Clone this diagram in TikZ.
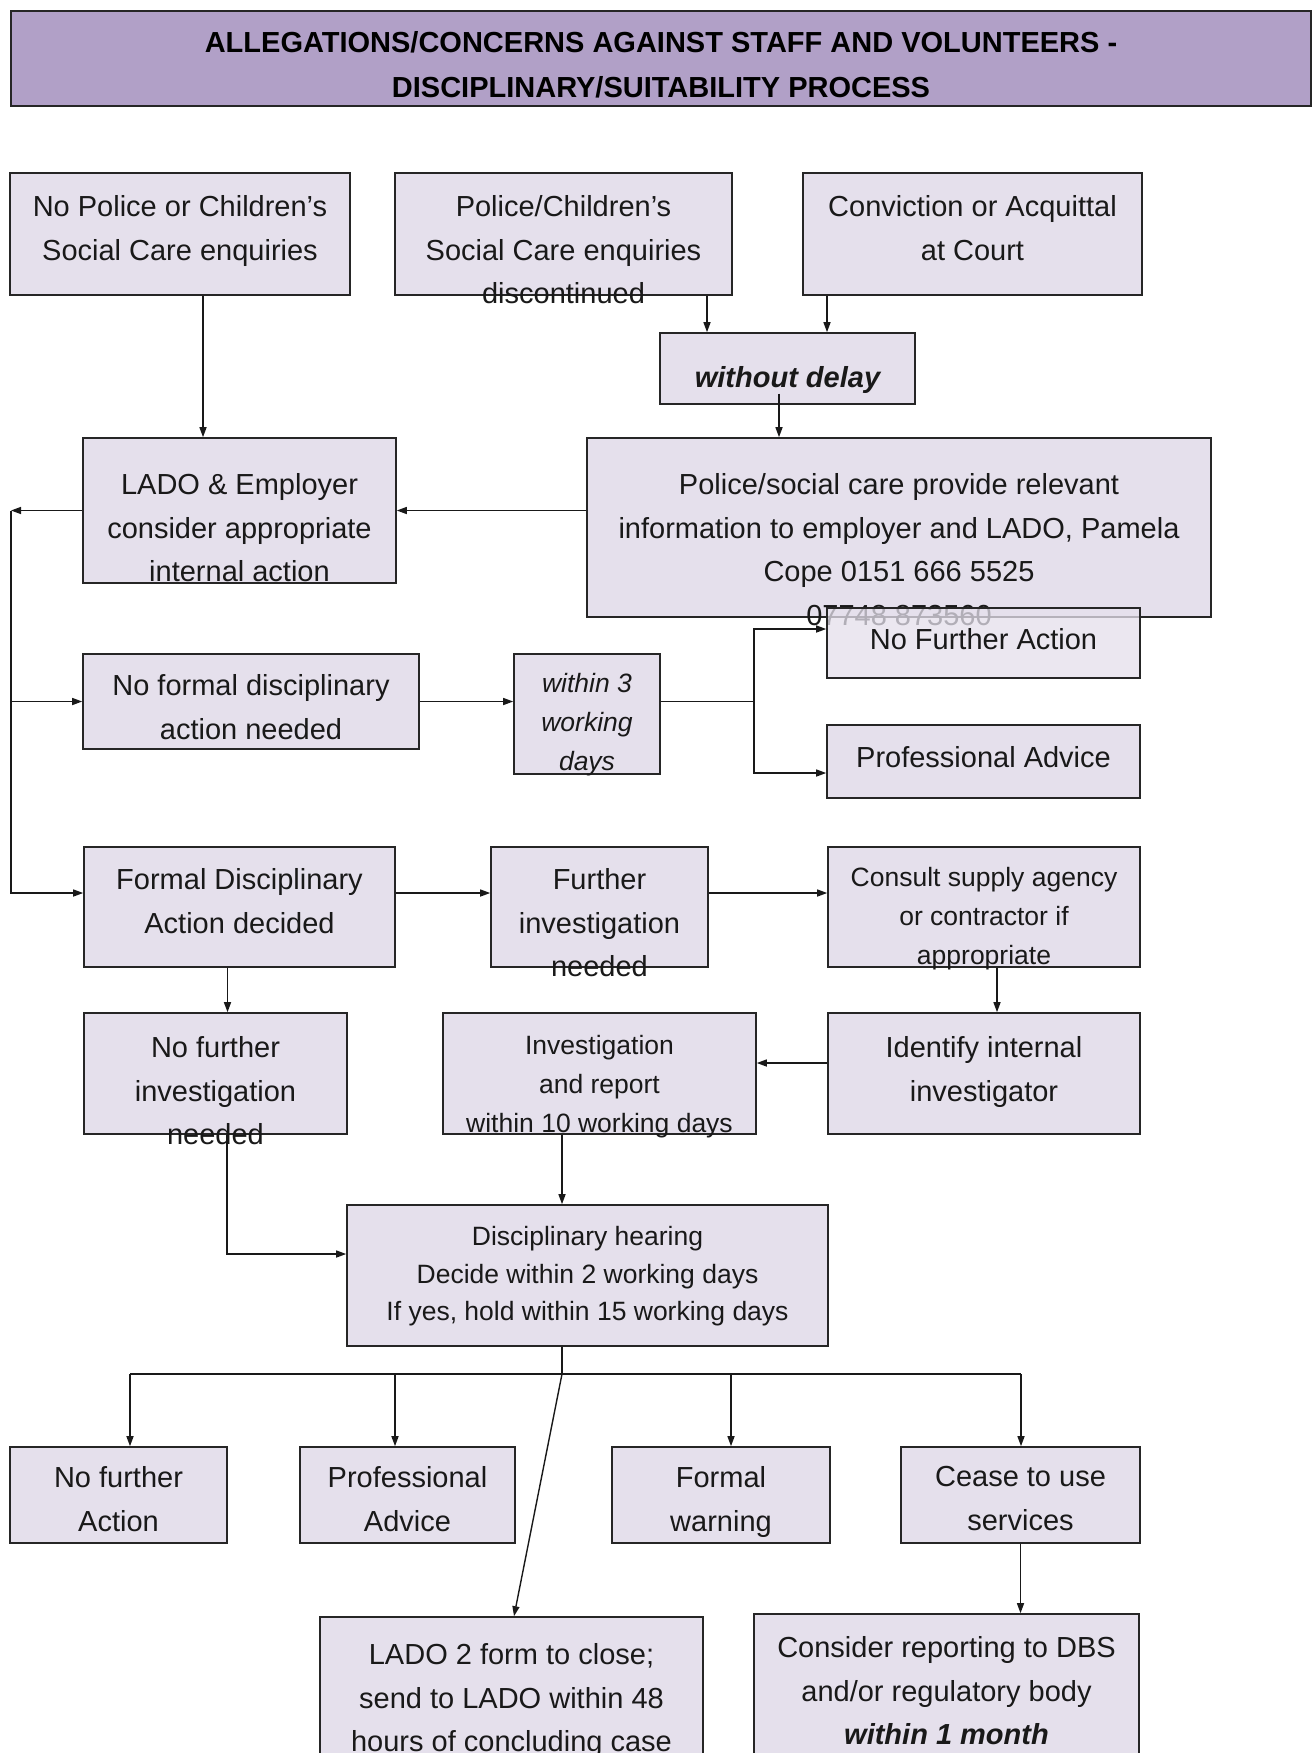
\documentclass[tikz,border=0pt]{standalone}
\usepackage{fontspec}
\setmainfont{Liberation Sans}
\usepackage{tikz}
\usetikzlibrary{arrows.meta,positioning}
\definecolor{LadoLilac}{HTML}{B1A0C7}
\definecolor{LadoPale}{HTML}{E5E0EC}
\newcommand{\flowfont}{\fontsize{29pt}{43.5pt}\selectfont}
\newcommand{\notefont}{\fontsize{26.5pt}{39pt}\selectfont}

\begin{document}
\begin{tikzpicture}[
  x=1pt, y=-1pt,
  box/.style={draw=black!85, line width=1.6pt, fill=LadoPale, inner sep=0pt},
  txt/.style={inner sep=0pt, align=center, text=black!90, font=\flowfont},
  notetxt/.style={txt, font=\notefont},
  arrow/.style={-{Triangle[length=10pt, width=7pt]}, line width=1.4pt, color=black!90},
  link/.style={line width=1.4pt, color=black!90}
]
  \fill[white] (0,0) rectangle (1316,1753);
  \useasboundingbox (0,0) rectangle (1316,1753);

  % heading
  \node[box, fill=LadoLilac, line width=2.2pt, minimum width=1300pt, minimum height=95pt] (title) at (661,58.5) {};
  \node[txt, font=\fontsize{29pt}{45pt}\selectfont\bfseries, text=black, below=21.3pt of title.north] (titletext) {ALLEGATIONS/CONCERNS AGAINST STAFF AND VOLUNTEERS -\\DISCIPLINARY/SUITABILITY PROCESS};

  % starting points
  \node[box, minimum width=340pt, minimum height=122pt] (nopolice) at (180,234) {};
  \node[txt, below=23.3pt of nopolice.north] (nopolicetext) {No Police or Children's\\Social Care enquiries};
  \node[box, minimum width=337pt, minimum height=122pt] (discont) at (563.5,234) {};
  \node[txt, below=23.3pt of discont.north] (disconttext) {Police/Children's\\Social Care enquiries\\discontinued};
  \node[box, minimum width=339pt, minimum height=122pt] (court) at (972.5,234) {};
  \node[txt, below=23.3pt of court.north] (courttext) {Conviction or Acquittal\\at Court};

  \node[box, minimum width=255pt, minimum height=71pt] (delay) at (787.5,368.5) {};
  \node[txt, font=\flowfont\bfseries\itshape, below=34pt of delay.north] (delaytext) {without delay};

  \node[box, minimum width=313pt, minimum height=145pt] (lado) at (239.5,510.5) {};
  \node[txt, below=36.3pt of lado.north] (ladotext) {LADO \& Employer\\consider appropriate\\internal action};
  \node[box, minimum width=624pt, minimum height=179pt] (police) at (899,527.5) {};
  \node[txt, below=36.3pt of police.north] (policetext) {Police/social care provide relevant\\information to employer and LADO, Pamela\\Cope 0151 666 5525\\07748 873560};

  % no formal action
  \node[box, minimum width=336pt, minimum height=95pt] (noformal) at (251,701.5) {};
  \node[txt, below=21.3pt of noformal.north] (noformaltext) {No formal disciplinary\\action needed};
  \node[box, minimum width=146pt, minimum height=120pt] (within3) at (587,714) {};
  \node[notetxt, font=\notefont\itshape, below=20.2pt of within3.north] (within3text) {within 3\\working\\days};
  \node[box, fill opacity=0.75, minimum width=313pt, minimum height=70pt] (nfa) at (983.5,643) {};
  \node[txt, below=21.3pt of nfa.north] (nfatext) {No Further Action};
  \node[box, minimum width=313pt, minimum height=73pt] (profadv) at (983.5,761.5) {};
  \node[txt, below=22.3pt of profadv.north] (profadvtext) {Professional Advice};

  % formal action
  \node[box, minimum width=311pt, minimum height=120pt] (formal) at (239.5,907) {};
  \node[txt, below=22.3pt of formal.north] (formaltext) {Formal Disciplinary\\Action decided};
  \node[box, minimum width=217pt, minimum height=120pt] (furtherinv) at (599.5,907) {};
  \node[txt, below=22.3pt of furtherinv.north] (furtherinvtext) {Further\\investigation\\needed};
  \node[box, minimum width=312pt, minimum height=120pt] (consult) at (984,907) {};
  \node[notetxt, below=21pt of consult.north] (consulttext) {Consult supply agency\\or contractor if\\appropriate};

  \node[box, minimum width=263pt, minimum height=121pt] (nofurther) at (215.5,1073.5) {};
  \node[txt, below=24.3pt of nofurther.north] (nofurthertext) {No further\\investigation\\needed};
  \node[box, minimum width=313pt, minimum height=121pt] (investig) at (599.5,1073.5) {};
  \node[notetxt, below=23pt of investig.north] (investigtext) {Investigation\\and report\\within 10 working days};
  \node[box, minimum width=312pt, minimum height=121pt] (identify) at (984,1073.5) {};
  \node[txt, below=24.3pt of identify.north] (identifytext) {Identify internal\\investigator};

  \node[box, minimum width=481pt, minimum height=141pt] (hearing) at (587.5,1275.5) {};
  \node[notetxt, font=\fontsize{26.5pt}{37.5pt}\selectfont, below=22pt of hearing.north] (hearingtext) {Disciplinary hearing\\Decide within 2 working days\\If yes, hold within 15 working days};

  % outcomes
  \node[box, minimum width=217pt, minimum height=96pt] (outnone) at (118.5,1495) {};
  \node[txt, below=20.3pt of outnone.north] (outnonetext) {No further\\Action};
  \node[box, minimum width=215pt, minimum height=96pt] (outadvice) at (407.5,1495) {};
  \node[txt, below=20.3pt of outadvice.north] (outadvicetext) {Professional\\Advice};
  \node[box, minimum width=218pt, minimum height=96pt] (outwarning) at (721,1495) {};
  \node[txt, below=20.3pt of outwarning.north] (outwarningtext) {Formal\\warning};
  \node[box, minimum width=239pt, minimum height=96pt] (outcease) at (1020.5,1495) {};
  \node[txt, below=20.3pt of outcease.north] (outceasetext) {Cease to use\\services};

  \node[box, minimum width=383pt, minimum height=170pt] (ladoform) at (511.5,1702) {};
  \node[txt, below=27.3pt of ladoform.north] (ladoformtext) {LADO 2 form to close;\\send to LADO within 48\\hours of concluding case};
  \node[box, minimum width=385pt, minimum height=170pt] (dbs) at (946.5,1699) {};
  \node[txt, below=23.3pt of dbs.north] (dbstext) {Consider reporting to DBS\\and/or regulatory body\\\textbf{\textit{within 1 month}}};

  % connectors
  \coordinate (railtop) at (11,510.5);
  \coordinate (split) at (754,701.5);
  \coordinate (busjoint) at (562,1374);

  \draw[arrow] ([xshift=23pt]nopolice.south) -- ([xshift=23pt]nopolice.south |- lado.north);
  \draw[arrow] ([xshift=143.5pt]discont.south) -- ([xshift=143.5pt]discont.south |- delay.north);
  \draw[arrow] ([xshift=-145.5pt]court.south) -- ([xshift=-145.5pt]court.south |- delay.north);
  \draw[arrow] ([xshift=-8.5pt]delaytext.south) -- ([xshift=-8.5pt]delaytext.south |- police.north);
  \draw[arrow] (police.west |- lado.east) -- (lado.east);

  \draw[arrow] (lado.west) -- (railtop);
  \draw[arrow] (railtop) |- ([yshift=14pt]formal.west);
  \draw[arrow] (railtop |- noformal.west) -- (noformal.west);

  \draw[arrow] (noformal.east) -- (noformal.east -| within3.west);
  \draw[link] (within3.east |- split) -- (split);
  \draw[arrow] (split) |- ([yshift=14pt]nfa.west);
  \draw[arrow] (split) |- ([yshift=-11.5pt]profadv.west);

  \draw[arrow] ([yshift=14pt]formal.east) -- ([yshift=14pt]formal.east -| furtherinv.west);
  \draw[arrow] ([yshift=14pt]furtherinv.east) -- ([yshift=14pt]furtherinv.east -| consult.west);
  \draw[arrow] ([xshift=13pt]consult.south) -- ([xshift=13pt]consult.south |- identify.north);
  \draw[arrow] ([yshift=10.5pt]identify.west) -- ([yshift=10.5pt]identify.west -| investig.east);
  \draw[arrow] ([xshift=-12pt]formal.south) -- ([xshift=-12pt]formal.south |- nofurther.north);
  \draw[arrow] ([xshift=11.5pt]nofurther.south) |- ([yshift=21.5pt]hearing.west);
  \draw[arrow] ([xshift=-37.5pt]investig.south) -- ([xshift=-37.5pt]investig.south |- hearing.north);

  \draw[link] ([xshift=-25.5pt]hearing.south) -- (busjoint);
  \draw[link] ([xshift=11.5pt]outnone.north |- busjoint) -- ([xshift=0.5pt]outcease.north |- busjoint);
  \foreach \target/\dx in {outnone/11.5pt, outadvice/-12.5pt, outwarning/10pt, outcease/0.5pt}
    \draw[arrow] ([xshift=\dx]\target.north |- busjoint) -- ([xshift=\dx]\target.north);
  \draw[arrow] (busjoint) -- ([xshift=2.5pt]ladoform.north);
  \draw[arrow] (outcease.south) -- (outcease.south |- dbs.north);
\end{tikzpicture}
\end{document}
